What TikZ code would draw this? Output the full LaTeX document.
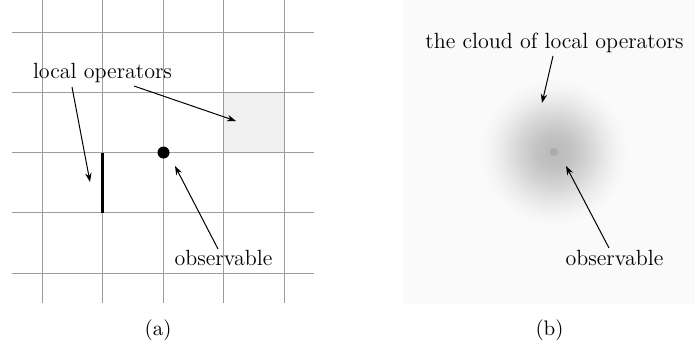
\documentclass[tikz,border=0pt]{standalone}
\usetikzlibrary{arrows.meta}
\definecolor{gridgray}{HTML}{9C9C9C}
\definecolor{cellgray}{HTML}{F0F0F0}
\definecolor{bggray}{HTML}{FAFAFA}
\definecolor{dotgray}{HTML}{AAAAAA}
\pgfdeclareradialshading{cloudshade}{\pgfpoint{0bp}{0bp}}{%
  color(0bp)=(black!27);
  color(5bp)=(black!24);
  color(10bp)=(black!17);
  color(15bp)=(black!9);
  color(19bp)=(black!4);
  color(22bp)=(bggray);
  color(50bp)=(bggray)}
\tikzset{
  gridline/.style={draw=gridgray, line width=0.5pt},
  ptr/.style={draw=black, line width=0.5pt, -{Stealth[length=4.5pt,width=3.2pt]}},
  lbl/.style={inner sep=0pt, anchor=base, font=\fontsize{11}{13}\selectfont},
  captext/.style={inner sep=0pt, anchor=base, font=\fontsize{10.5}{12}\selectfont}
}
\begin{document}
\begin{tikzpicture}[x=0.5pt,y=-0.5pt]
\useasboundingbox (0,0) rectangle (695,349);
% ---------- panel (a) ----------
\fill[cellgray] (223.5,92.5) rectangle (284.5,152.5);
\foreach \yy in {32.5,92.5,152.5,212.5,273.5}
  \draw[gridline] (12,\yy) -- (314,\yy);
\foreach \xx in {42.5,102.5,163.5,223.5,284.5}
  \draw[gridline] (\xx,0) -- (\xx,303);
\draw[line width=1.5pt] (102.5,152.5) -- (102.5,212.5);
\fill (163.5,152.5) circle (6);
\node[lbl] (lo) at (102.5,78) {local operators};
\node[lbl] (obsa) at (223.5,265) {observable};
\coordinate (lot1) at (72,87);
\coordinate (loh1) at (90,182);
\coordinate (lot2) at (134,86);
\coordinate (loh2) at (236,121);
\coordinate (oat) at (218,249);
\coordinate (oah) at (175,166);
\draw[ptr] (lot1) -- (loh1);
\draw[ptr] (lot2) -- (loh2);
\draw[ptr] (oat) -- (oah);
\node[captext] (capa) at (158,335) {(a)};
% ---------- panel (b) ----------
\fill[bggray] (403,0) rectangle (695,303.5);
\shade[shading=cloudshade] (554,152) circle (84);
\fill[dotgray] (554,152) circle (4);
\node[lbl] (cloud) at (554.5,48) {the cloud of local operators};
\node[lbl] (obsb) at (614.5,265) {observable};
\coordinate (ct) at (553,56);
\coordinate (ch) at (542,103);
\coordinate (obt) at (609,248);
\coordinate (obh) at (566,166);
\draw[ptr] (ct) -- (ch);
\draw[ptr] (obt) -- (obh);
\node[captext] (capb) at (549.5,335) {(b)};
\end{tikzpicture}
\end{document}
